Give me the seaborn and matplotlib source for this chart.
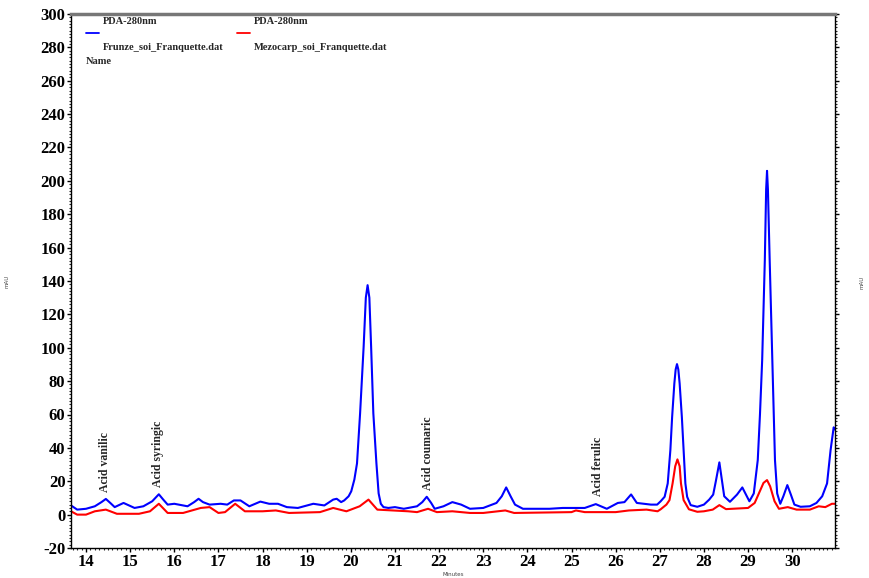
import matplotlib
matplotlib.use("Agg")
import matplotlib.pyplot as plt
import seaborn as sns
import pandas as pd
from matplotlib.ticker import MultipleLocator

# ----------------------------------------------------------
# data (minutes, mAU)
# ----------------------------------------------------------
blue_t = [13.66, 13.8, 14.0, 14.2, 14.35, 14.45, 14.55, 14.65, 14.85, 15.1, 15.3, 15.5, 15.65,
          15.75, 15.85, 16.0, 16.3, 16.45, 16.55, 16.65, 16.8, 17.05, 17.2, 17.35, 17.5, 17.7,
          17.95, 18.15, 18.35, 18.55, 18.8, 19.15, 19.4, 19.6, 19.68, 19.78, 19.85, 19.95, 20.01,
          20.08, 20.14, 20.21, 20.29, 20.34, 20.38, 20.42, 20.46, 20.51, 20.58, 20.63, 20.68,
          20.74, 20.85, 21.0, 21.2, 21.5, 21.62, 21.72, 21.82, 21.9, 22.1, 22.3, 22.5, 22.7, 23.0,
          23.3, 23.42, 23.52, 23.62, 23.72, 23.9, 24.5, 24.8, 25.3, 25.55, 25.8, 26.05, 26.2,
          26.35, 26.48, 26.8, 26.94, 27.02, 27.11, 27.18, 27.24, 27.28, 27.33, 27.36, 27.39,
          27.42, 27.45, 27.50, 27.54, 27.58, 27.62, 27.70, 27.85, 28.0, 28.12, 28.21, 28.27,
          28.35, 28.41, 28.46, 28.59, 28.75, 28.87, 29.03, 29.13, 29.22, 29.27, 29.32, 29.38,
          29.41, 29.43, 29.45, 29.49, 29.55, 29.61, 29.66, 29.73, 29.8, 29.89, 29.97, 30.05,
          30.19, 30.4, 30.55, 30.68, 30.79, 30.87, 30.94, 30.97]
blue_v = [5.5, 3, 3.5, 5, 7.5, 9.4, 7, 4.5, 7, 4, 5, 8, 12.2,
          9, 6, 6.5, 5, 7.5, 9.5, 7.5, 6, 6.5, 6, 8.5, 8.5, 5,
          7.8, 6.5, 6.5, 4.5, 4, 6.5, 5.5, 9, 9.5, 7.5, 8.5, 11, 14,
          21, 30.7, 60.7, 100.5, 130, 137.5, 130, 100.5, 60.7, 30.7, 12.7, 6.5,
          4.5, 4, 4.5, 3.5, 5, 7.5, 10.7, 7, 3.5, 5, 7.5, 6, 3.5, 4,
          7, 11, 16.3, 11, 6, 3.5, 3.5, 4, 4, 6.3, 3.5, 7, 7.5,
          12.1, 7, 6, 6, 8, 10.7, 18.7, 38.7, 58.6, 78.6, 87, 90.2,
          87, 78.6, 58.6, 38.7, 18.7, 10.7, 5.7, 4.7, 6, 9, 12, 20,
          31.3, 20, 11, 7.7, 12, 16.3, 8, 12.7, 32.7, 60, 92.6, 152.5,
          195, 206, 195, 152.5, 92.6, 32.7, 12.7, 6.5, 11, 17.7, 12, 6,
          4.7, 5, 7, 11, 18.7, 38.7, 52.3, 51]

red_t = [13.66, 13.8, 14.0, 14.2, 14.45, 14.7, 15.2, 15.45, 15.65, 15.85, 16.2, 16.6, 16.8, 17.0,
         17.15, 17.38, 17.6, 18.0, 18.3, 18.6, 19.3, 19.6, 19.9, 20.2, 20.4, 20.6, 21.3, 21.5,
         21.75, 21.95, 22.3, 22.7, 23.0, 23.5, 23.7, 25.0, 25.1, 25.3, 26.0, 26.3, 26.7, 26.95,
         27.02, 27.15, 27.22, 27.29, 27.35, 27.40, 27.45, 27.48, 27.54, 27.66, 27.85, 28.0,
         28.2, 28.35, 28.5, 29.0, 29.15, 29.25, 29.35, 29.43, 29.5, 29.6, 29.7, 29.9, 30.1,
         30.4, 30.6, 30.75, 30.9, 30.97]
red_v = [2, 0, 0, 2, 3, 0.5, 0.5, 2, 6.5, 1, 1, 4, 4.5, 1,
         1.5, 6.5, 2, 2, 2.5, 1, 1.5, 4, 2, 5, 9, 3, 2, 1.5,
         3.5, 1.5, 2, 1, 1, 2.5, 1, 1.5, 2.5, 1.5, 1.5, 2.5, 3, 2,
         3.2, 6, 8.7, 18.7, 29, 33.1, 29, 18.7, 8.7, 3.2, 1.7, 2,
         3, 5.7, 3.3, 4, 7, 13, 19, 20.7, 17, 8, 3.5, 4.5, 3,
         3, 5, 4.5, 6.5, 6.5]

peak_names = ["Acid vanilic", "Acid syringic", "Acid coumaric", "Acid ferulic"]
peak_t = [14.43, 15.63, 21.74, 25.61]
peak_y = [13.5, 16.5, 15.0, 11.0]

# ----------------------------------------------------------
# plot
# ----------------------------------------------------------
sns.set_theme(style="ticks")
plt.rcParams['font.family'] = ['Liberation Serif', 'DejaVu Serif']
plt.rcParams['axes.unicode_minus'] = False

df_blue = pd.DataFrame({"Minutes": blue_t, "mAU": blue_v})
df_red = pd.DataFrame({"Minutes": red_t, "mAU": red_v})

fig = plt.figure(figsize=(8.69, 5.78), dpi=100)
ax = fig.add_axes([71 / 869, 1 - 548 / 578, (835 - 71) / 869, (548 - 14) / 578])

sns.lineplot(data=df_red, x="Minutes", y="mAU", color="#ff0000", lw=1.5, ax=ax)
sns.lineplot(data=df_blue, x="Minutes", y="mAU", color="#0000ff", lw=1.5, ax=ax)

ax.set_xlim(13.66, 30.97)
ax.set_ylim(-20, 300)
ax.xaxis.set_major_locator(MultipleLocator(1))
ax.xaxis.set_minor_locator(MultipleLocator(0.1))
ax.yaxis.set_major_locator(MultipleLocator(20))
ax.yaxis.set_minor_locator(MultipleLocator(2))
ax.tick_params(which="major", length=3, width=1, colors="black", labelsize=12, pad=1,
               right=True)
ax.tick_params(which="minor", length=1.5, width=0.8, right=True)
for lab in ax.get_xticklabels() + ax.get_yticklabels():
    lab.set_fontweight("bold")

for s in ["left", "bottom", "right"]:
    ax.spines[s].set_color("black")
    ax.spines[s].set_linewidth(1)
ax.spines["top"].set_color("#777777")
ax.spines["top"].set_linewidth(2.5)

ax.set_xlabel("Minutes", fontsize=4, fontfamily="DejaVu Sans", labelpad=2, color="#444444")
ax.set_ylabel("mAU", fontsize=4, fontfamily="DejaVu Sans", labelpad=22, color="#444444")
fig.text(862 / 869, 1 - 282 / 578, "mAU", fontsize=4, rotation=90, ha="center", va="center",
         color="#444444", family="DejaVu Sans")

# peak labels
for name, t, y in zip(peak_names, peak_t, peak_y):
    ax.text(t, y, name, rotation=90, ha="center", va="bottom", fontsize=8.5, fontweight="bold")

# legend block at top left
def px(x, y):
    return x / 869, 1 - y / 578

for x0, col, fname in [(86, "#0000ff", "Frunze_soi_Franquette.dat"),
                       (237, "#ff0000", "Mezocarp_soi_Franquette.dat")]:
    fig.text(*px(x0 + 17, 21), "PDA-280nm", fontsize=7.5, fontweight="bold", va="center")
    fig.add_artist(plt.Line2D([x0 / 869, (x0 + 13) / 869], [1 - 33 / 578] * 2, color=col, lw=1.3))
    fig.text(*px(x0 + 17, 47), fname, fontsize=7.5, fontweight="bold", va="center")
fig.text(*px(86, 61), "Name", fontsize=7.5, fontweight="bold", va="center")

plt.savefig("out.png", dpi=100)
